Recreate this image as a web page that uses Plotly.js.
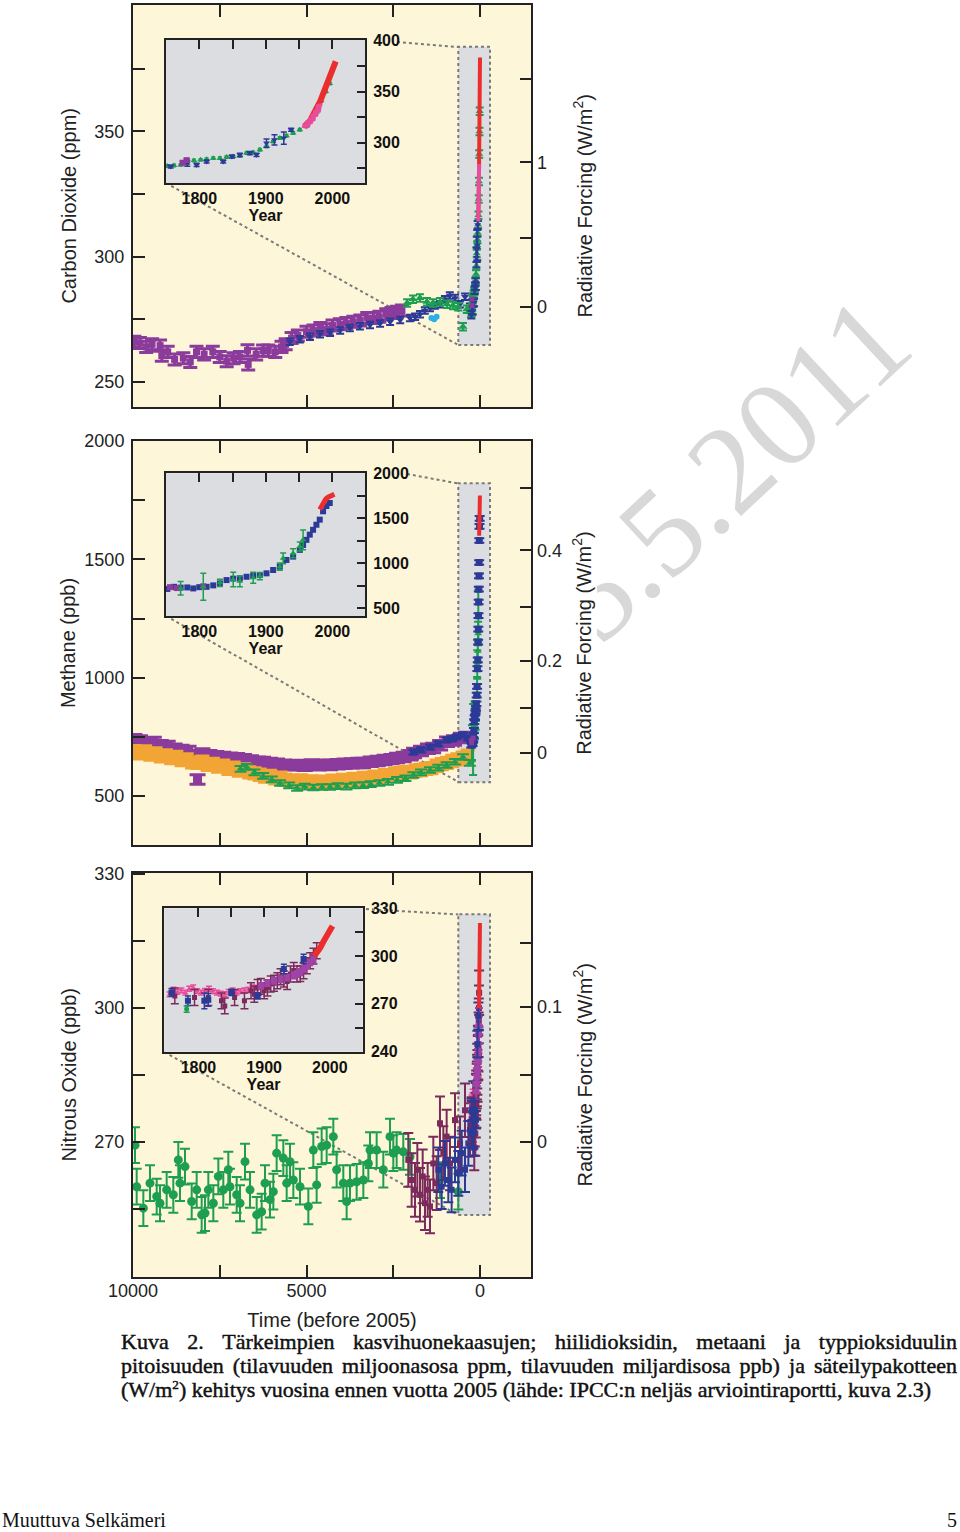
<!DOCTYPE html>
<html><head><meta charset="utf-8">
<script src="https://cdn.plot.ly/plotly-3.0.1.min.js"></script>
<style>
html,body{margin:0;padding:0;background:#fff;width:960px;height:1532px;overflow:hidden;}
#wm{position:absolute;left:0;top:0;z-index:0;}
#chart{position:absolute;left:0;top:0;width:960px;height:1532px;z-index:1;}
.cap{position:absolute;left:121px;width:836px;font-family:'Liberation Serif','Times New Roman',serif;font-size:22px;line-height:24px;color:#111;z-index:2;white-space:nowrap;-webkit-text-stroke:0.45px #111;}
.flex{display:flex;justify-content:space-between;}
.cap sup{font-size:0.6em;line-height:0;vertical-align:0.6em;}
.foot{position:absolute;top:1508px;font-family:'Liberation Serif','Times New Roman',serif;font-size:20px;line-height:24px;color:#111;z-index:2;}
</style></head><body>
<svg id="wm" width="960" height="1532"><text x="918" y="351" transform="rotate(-43 918 351)" text-anchor="end" font-family="Liberation Serif, serif" font-size="126" fill="#d8d8d8">15.5.2011</text></svg>
<div id="chart"></div>
<div class="cap flex" style="top:1330px" data-words="Kuva 2. Tärkeimpien kasvihuonekaasujen; hiilidioksidin, metaani ja typpioksiduulin"></div>
<div class="cap flex" style="top:1354px" data-words="pitoisuuden (tilavuuden miljoonasosa ppm, tilavuuden miljardisosa ppb) ja säteilypakotteen"></div>
<div class="cap" style="top:1378px">(W/m<sup>2</sup>) kehitys vuosina ennen vuotta 2005 (lähde: IPCC:n neljäs arviointiraportti, kuva 2.3)</div>
<div class="foot" style="left:2px">Muuttuva Selkämeri</div>
<div class="foot" style="right:3px">5</div>
<script>
// justified caption lines: one span per word
document.querySelectorAll('.cap.flex').forEach(function (el) {
  el.getAttribute('data-words').split(' ').forEach(function (w) {
    var s = document.createElement('span'); s.textContent = w; el.appendChild(s);
  });
});

// ================= DATA =================
// --- CO2 main panel (years before 2005, ppm)
const co2PurpleYr  = [9960,9800,9620,9450,9220,9170,9000,8800,8550,8350,8170,7950,7700,7500,7300,7100,6920,6700,6680,6450,6250,6100,5900,5720,5600,5430,5250,5000,4800,4600,4420,4250,4040,3850,3650,3450,3250,3070,2900,2700,2550,2400,2250];
const co2PurplePpm = [266,265.5,264,265,264.5,260.5,262,259,259.5,258,262,261,262,260,258.3,259.5,260,262.6,257,261,262.5,262.5,262,264,265,267.5,268.5,270,270.5,271.5,271,272.5,273,273.5,274,274.5,275.5,275.5,276,277,277.5,278,278.5];
const co2BlueYr  = [5480,5190,4900,4610,4320,4030,3750,3460,3170,2880,2590,2300,2020,1870,1730,1590,1440,1300,1150,1010,870,720,580,430,290];
const co2BluePpm = [266,267,268,269,269.6,270.5,271.5,272.2,272.7,273.3,274,274.7,275.5,276,277,278.5,279.5,280.5,281,283,284.5,283.5,281,284,280];
const co2GreenYr  = [2100,1930,1730,1530,1350,1150,950,780,630,490,380];
const co2GreenPpm = [281.5,283,283.5,282,281.5,282,281,280.5,280,272,279];
const co2CyanYr  = [1400,1320,1250];
const co2CyanPpm = [275.5,275,276];
// --- CO2 inset (calendar year, ppm)
const co2iGreenYr  = [1752,1762,1772,1782,1792,1802,1811,1821,1831,1841,1851,1861,1871,1881,1891,1901,1911,1921,1931,1941,1951,1961,1969,1976,1983,1990,1996];
const co2iGreenPpm = [277.4,277.8,278.4,280,282.7,283.3,284,285,285,286,286.6,287.3,289.9,290.5,293.1,296.4,301.3,304.6,306.9,309.5,312.7,316.5,323,330,341,350,358];
const co2iBlueYr  = [1757,1782,1796,1811,1836,1849,1861,1876,1886,1901,1913,1927,1938];
const co2iBluePpm = [276.8,280,278.4,281.7,281.7,286.6,288.2,289.9,288.2,299.7,302.9,304.6,312.7];
const co2iBlueErr = [1.5,3,1.5,1.5,1.5,1.5,1.5,1.5,1.5,4,5,6,1.5];
const co2iPurpleYr  = [1775,1781];
const co2iPurplePpm = [280.5,283];
const co2iRedYr  = [1958,1961,1964,1967,1970,1973,1976,1979,1982,1985,1988,1991,1994,1997,2000,2003,2005];
const co2iRedPpm = [316,317.5,320,322,326,329.5,332,337,341,346,351,355,359,364,369.5,375.5,379.5];
const co2iPinkYr  = [1958,1960,1962,1964,1966,1968,1970,1972,1974,1976,1978,1980,1982];
const co2iPinkPpm = [314,318,316,321,319,324,322,328,326,332,330,337,335];

// --- CH4 main panel (years before 2005, ppb)
const ch4PurpleYr  = [9960,9800,9600,9400,9200,9000,8800,8600,8400,8160,8140,8000,7800,7600,7400,7200,7000,6800,6600,6400,6250,6050,5850,5650,5450,5270,5050,4850,4650,4450,4320,4100,3900,3700,3500,3370,3150,2950,2750,2550,2390,2200,2000,1900,1700,1500,1350,1150,950,750,550,400];
const ch4PurplePpb = [740,735,725,728,715,712,700,695,690,673,570,680,672,668,665,662,660,655,650,645,644,640,636,632,630,631,628,633,630,632,631,634,636,638,640,640,645,648,652,656,661,665,672,682,690,700,703,715,729,735,745,750];
const ch4OrangeYr  = [9960,9800,9650,9500,9350,9200,9050,8900,8750,8600,8450,8300,8150,8000,7850,7700,7550,7400,7250,7100,6950,6800,6650,6500,6350,6200,6050,5900,5750,5600,5450,5300,5150,5000,4850,4700,4550,4400,4250,4100,3950,3800,3650,3500,3350,3200,3050,2900,2750,2600,2450,2300,2150,2000,1850,1700,1550,1400,1250,1100,950,800,650,500,350];
const ch4OrangePpb = [690,680,688,675,680,668,672,660,665,652,655,642,640,645,632,636,625,628,615,620,608,612,600,596,590,582,585,575,578,568,565,560,566,556,562,555,561,558,565,560,568,563,572,570,576,574,582,580,588,586,594,597,602,600,608,610,615,618,628,635,640,648,655,662,670];
const ch4GreenYr  = [6900,6720,6500,6250,6000,5760,5500,5270,5050,4800,4550,4320,4100,3850,3600,3370,3150,2900,2650,2390,2150,1920,1700,1440,1200,960,720,490,290];
const ch4GreenPpb = [615,623,600,585,570,555,545,534,540,536,538,538,542,540,545,546,550,555,560,568,575,589,600,610,620,631,645,665,640];
const ch4BlueYr  = [1920,1700,1440,1200,960,800,670,490,350];
const ch4BluePpb = [686,695,707,720,737,742,750,758,745];
// --- CH4 inset (calendar year, ppb)
const ch4iBlueYr  = [1752,1762,1772,1782,1791,1800,1811,1821,1831,1841,1851,1861,1871,1881,1891,1901,1911,1921,1931,1941,1951,1956,1961,1966,1971,1976,1981,1986,1991,1996];
const ch4iBluePpb = [715,739,730,732,721,735,739,755,777,814,830,833,851,860,870,889,926,963,1038,1075,1150,1205,1262,1320,1374,1430,1487,1580,1640,1673];
const ch4iGreenYr  = [1772,1806,1831,1851,1861,1881,1891,1921,1926,1941,1951,1956];
const ch4iGreenPpb = [724,739,783,820,800,840,858,963,1056,1113,1187,1262];
const ch4iGreenErr = [75,150,40,80,60,60,40,40,60,50,50,110];
const ch4iPurpleYr  = [1756,1766,1806];
const ch4iPurplePpb = [735,725,745];
const ch4iRedYr  = [1981,1984,1987,1990,1993,1996,1999,2003];
const ch4iRedPpb = [1600,1645,1685,1715,1735,1750,1760,1770];

// --- N2O main panel (years before 2005, ppb)
const n2oGreenYr  = [9942,9894,9702,9510,9317,9222,9030,8838,8694,8646,8501,8309,8165,8021,7925,7829,7685,7541,7397,7253,7205,7012,6916,6772,6628,6436,6292,6196,6052,5956,5860,5668,5571,5475,5379,5187,4947,4803,4707,4563,4419,4227,4131,3939,3843,3746,3554,3362,3218,3170,2978,2786,2594,2498,2402,2210,2017,1153,625];
const n2oGreenPpb = [269.3,260.0,255.2,260.8,257.8,256.3,259.3,258.2,266.0,260.8,264.5,256.7,259.3,253.7,254.1,259.3,256.3,262.3,259.3,263.8,260.0,258.2,256.3,265.6,259.3,253.7,254.4,260.8,257.1,258.9,267.5,266.4,260.8,265.6,261.5,260.0,255.6,268.2,260.4,269.0,269.3,271.2,263.8,260.8,256.7,260.8,261.1,261.5,265.2,268.2,268.2,263.8,271.2,267.5,268.2,267.8,266.7,261.5,258.9];
const n2oMaroonYr  = [2066,1970,1873,1806,1729,1652,1585,1508,1441,1345,1249,1153,1057,961,865,720,576,432,288];
const n2oMaroonPpb = [266.0,261.5,259.3,263.8,258.2,262.3,256.3,259.3,255.6,265.2,260.8,274.2,267.5,271.2,265.2,274.9,269.7,277.1,272.7];
const n2oBlueYr  = [1201,1105,1009,913,817,720,625,528,432,336,240,192];
const n2oBluePpb = [263.8,260.0,265.2,261.5,259.3,266.0,263.0,267.5,263.8,269.7,274.2,278.6];
// --- N2O inset (calendar year, ppb)
const n2oiPinkYr  = [1756,1762,1768,1774,1780,1786,1792,1798,1804,1810,1816,1822,1828,1834,1840,1846,1852,1858,1864,1870,1876,1882,1888,1894];
const n2oiPinkPpb = [276,279,277.5,278.5,277,279.5,280.3,278,277,278.2,279.5,278,277,276.5,276.1,277.5,278.5,277,278,278.5,279,280.3,280,281.3];
const n2oiMaroonYr  = [1764,1794,1815,1835,1840,1855,1870,1880,1885,1890,1895,1900,1905,1910,1915,1920,1925,1930,1935,1940,1945,1950,1955,1960,1965,1970,1975,1980];
const n2oiMaroonPpb = [275,274,274,271.9,268.7,274,271.9,278.2,276,280.3,281,278.2,280,282.5,283,284.5,287,285.6,284,288.8,291,288.8,289,290.8,294,297.1,300,303.4];
const n2oiVioletYr  = [1895,1905,1915,1925,1935,1945,1950,1955,1960,1965,1970,1975];
const n2oiVioletPpb = [281.3,283,284.5,285.5,286.5,288,288.8,290,291.9,294,296.1,298];
const n2oiBlueYr  = [1759,1784,1809,1815,1850,1890,1930,1960];
const n2oiBluePpb = [277.2,271.9,271.9,272.5,277.2,275,291.9,298.2];
const n2oiBlueErr = [2.5,3,5,4,2,2,3,3];
const n2oiGreenYr  = [1782];
const n2oiGreenPpb = [266.7];
const n2oiRedYr  = [1976,1980,1985,1990,1995,2000,2004];
const n2oiRedPpb = [300,302,305,309,312,316,319];

// --- Axis ticks / labels (labelled ticks, plus unlabelled minor ticks)
const mainXMinorOnly = [7500,5000,2500,0];
const mainXTicksB  = [10000,5000,0];
const mainXLabelsB = ['10000','5000','0'];
const mainXMinorB  = [7500,2500];
const co2Ticks  = [250,300,350];
const co2Labels = ['250','300','350'];
const co2Minor  = [275,325,375];
const co2RfAt   = [280,337.7];            // ppm positions of 0 and 1 W/m2
const co2RfLabels = ['0','1'];
const co2RfMinor  = [307.4,370.8];        // 0.5 and 1.5 W/m2
const ch4Ticks  = [500,1000,1500,2000];
const ch4Labels = ['500','1000','1500','2000'];
const ch4Minor  = [750,1250,1750];
const ch4RfAt   = [682,1070,1539];        // 0, 0.2, 0.4 W/m2
const ch4RfLabels = ['0','0.2','0.4'];
const ch4RfMinor  = [872,1298,1801];      // 0.1, 0.3, 0.5 W/m2
const n2oTicks  = [270,300,330];
const n2oLabels = ['270','300','330'];
const n2oMinor  = [255,285,315];
const n2oRfAt   = [270,300.3];            // 0 and 0.1 W/m2
const n2oRfLabels = ['0','0.1'];
const n2oRfMinor  = [285,314.6];          // 0.05 and 0.15 W/m2
const insetXTicks  = [1800,1900,2000];
const insetXLabels = ['1800','1900','2000'];
const insetXTop    = [1800,1850,1900,1950,2000];
const co2iTicks  = [300,350,400];
const co2iLabels = ['300','350','400'];
const co2iMinor  = [275,325,375];
const ch4iTicks  = [500,1000,1500,2000];
const ch4iLabels = ['500','1000','1500','2000'];
const ch4iMinor  = [750,1250,1750];
const n2oiTicks  = [240,270,300,330];
const n2oiLabels = ['240','270','300','330'];
const n2oiMinor  = [255,285,315];

// ================= COLORS =================
const C = {purple:'#8B3B9B', blue:'#2B3A96', green:'#1E9E50', orange:'#F2A535', red:'#EC2D2D',
           pink:'#EA4C9C', maroon:'#7B2A5C', violet:'#A143A6', cyan:'#2AB0E6'};

// ================= HELPERS =================
const toBP = a => a.map(v => 2005 - v);
function pts(x, y, xa, ya, color, symbol, size, err, capW, thick) {
  const t = {type:'scatter', mode:'markers', x:x, y:y, xaxis:xa, yaxis:ya, showlegend:false, hoverinfo:'skip',
             marker:{color:color, symbol:symbol, size:size, line:{width:0}}};
  if (err !== undefined && err !== null) {
    t.error_y = Array.isArray(err)
      ? {type:'data', array:err, symmetric:true, color:color, thickness:thick||1.5, width:capW||3}
      : {type:'constant', value:err, color:color, thickness:thick||1.5, width:capW||3};
  }
  return t;
}
function ln(x, y, xa, ya, color, width) {
  return {type:'scatter', mode:'lines', x:x, y:y, xaxis:xa, yaxis:ya, showlegend:false, hoverinfo:'skip',
          line:{color:color, width:width}};
}
const dummy = (xa, ya) => ({type:'scatter', mode:'markers', x:[], y:[], xaxis:xa, yaxis:ya, showlegend:false, hoverinfo:'skip'});

// ================= TRACES =================
const traces = [
  // CO2 main
  pts(co2PurpleYr, co2PurplePpm, 'x','y', C.purple, 'square', 7, 2.2, 7, 3),
  pts(co2BlueYr, co2BluePpm, 'x','y', C.blue, 'triangle-down', 7, 1.3, 4, 2),
  pts(co2GreenYr, co2GreenPpm, 'x','y', C.green, 'triangle-up', 8, 1.5, 4, 2),
  pts(co2CyanYr, co2CyanPpm, 'x','y', C.cyan, 'circle', 6),
  pts(toBP(co2iGreenYr), co2iGreenPpm, 'x','y', C.green, 'triangle-up', 7, 1.5, 4, 2),
  pts(toBP(co2iBlueYr), co2iBluePpm, 'x','y', C.blue, 'triangle-down', 6, co2iBlueErr, 4, 2),
  pts(toBP(co2iPurpleYr), co2iPurplePpm, 'x','y', C.purple, 'square', 5),
  ln(toBP(co2iRedYr), co2iRedPpm, 'x','y', C.red, 4),
  ln(toBP(co2iPinkYr), co2iPinkPpm, 'x','y', C.pink, 4),
  dummy('x','y7'),
  // CO2 inset
  pts(co2iGreenYr, co2iGreenPpm, 'x4','y4', C.green, 'triangle-up', 6, 1.2, 2, 1.5),
  pts(co2iBlueYr, co2iBluePpm, 'x4','y4', C.blue, 'triangle-down', 6, co2iBlueErr, 3, 1.5),
  pts(co2iPurpleYr, co2iPurplePpm, 'x4','y4', C.purple, 'square', 6, 1.5, 3, 1.5),
  ln(co2iRedYr, co2iRedPpm, 'x4','y4', C.red, 6),
  ln(co2iPinkYr, co2iPinkPpm, 'x4','y4', C.pink, 6),
  dummy('x7','y4'),

  // CH4 main
  pts(ch4PurpleYr, ch4PurplePpb, 'x2','y2', C.purple, 'square', 9, 20, 8, 3),
  pts(ch4OrangeYr, ch4OrangePpb, 'x2','y2', C.orange, 'square', 10, 24, 7, 3),
  pts(ch4GreenYr, ch4GreenPpb, 'x2','y2', C.green, 'triangle-up', 7, 12, 6, 2),
  pts(ch4BlueYr, ch4BluePpb, 'x2','y2', C.blue, 'square', 7, 10, 5, 2),
  pts(toBP(ch4iGreenYr), ch4iGreenPpb, 'x2','y2', C.green, 'triangle-up', 7, ch4iGreenErr, 4, 2),
  pts(toBP(ch4iBlueYr), ch4iBluePpb, 'x2','y2', C.blue, 'square', 7, 10, 5, 2),
  pts(toBP(ch4iPurpleYr), ch4iPurplePpb, 'x2','y2', C.purple, 'square', 5),
  ln(toBP(ch4iRedYr), ch4iRedPpb, 'x2','y2', C.red, 4),
  dummy('x2','y8'),
  // CH4 inset
  pts(ch4iBlueYr, ch4iBluePpb, 'x5','y5', C.blue, 'square', 6),
  pts(ch4iPurpleYr, ch4iPurplePpb, 'x5','y5', C.purple, 'square', 6),
  pts(ch4iGreenYr, ch4iGreenPpb, 'x5','y5', C.green, 'triangle-up', 6, ch4iGreenErr, 3, 1.5),
  ln(ch4iRedYr, ch4iRedPpb, 'x5','y5', C.red, 5),
  dummy('x8','y5'),

  // N2O main
  pts(n2oGreenYr, n2oGreenPpb, 'x3','y3', C.green, 'circle', 9, 4, 5, 2),
  pts(n2oMaroonYr, n2oMaroonPpb, 'x3','y3', C.maroon, 'square', 6, 6, 5, 2),
  pts(n2oBlueYr, n2oBluePpb, 'x3','y3', C.blue, 'square', 6, 5, 5, 2),
  pts(toBP(n2oiPinkYr), n2oiPinkPpb, 'x3','y3', C.pink, 'triangle-up', 5, 1.5, 3, 1.5),
  pts(toBP(n2oiMaroonYr), n2oiMaroonPpb, 'x3','y3', C.maroon, 'square', 6, 5, 5, 2),
  pts(toBP(n2oiVioletYr), n2oiVioletPpb, 'x3','y3', C.violet, 'square', 6, 2, 4, 2),
  pts(toBP(n2oiBlueYr), n2oiBluePpb, 'x3','y3', C.blue, 'square', 6, n2oiBlueErr, 5, 2),
  ln(toBP(n2oiRedYr), n2oiRedPpb, 'x3','y3', C.red, 4),
  dummy('x3','y9'),
  // N2O inset
  pts(n2oiPinkYr, n2oiPinkPpb, 'x6','y6', C.pink, 'triangle-up', 5, 1.5, 3, 1.5),
  pts(n2oiMaroonYr, n2oiMaroonPpb, 'x6','y6', C.maroon, 'square', 5, 5, 4, 1.5),
  pts(n2oiVioletYr, n2oiVioletPpb, 'x6','y6', C.violet, 'square', 6, 2, 3, 1.5),
  pts(n2oiBlueYr, n2oiBluePpb, 'x6','y6', C.blue, 'square', 6, n2oiBlueErr, 3, 1.5),
  pts(n2oiGreenYr, n2oiGreenPpb, 'x6','y6', C.green, 'circle', 5, 2, 3, 1.5),
  ln(n2oiRedYr, n2oiRedPpb, 'x6','y6', C.red, 6),
  dummy('x9','y6')
];

// ================= LAYOUT =================
const W = 960, H = 1532;
const FONT = 'Liberation Sans, Arial, Helvetica, sans-serif';
const INK = '#222';
const BOX = {
  p1:{l:133,r:531,t:4.6,b:407}, p2:{l:133,r:531,t:441,b:845}, p3:{l:133,r:531,t:872.5,b:1277},
  i1:{l:166,r:365,t:40,b:183}, i2:{l:166,r:365,t:473.3,b:616}, i3:{l:164.3,r:362.7,t:908.3,b:1051.7}
};
const dX = b => [b.l / W, b.r / W];
const dY = b => [1 - b.b / H, 1 - b.t / H];
const fx = (b, x) => (x - b.l) / (b.r - b.l);
const fy = (b, y) => (b.b - y) / (b.b - b.t);

const MAIN_X_RANGE = [10000, -1470];
const CO2_RANGE = [240, 400.6], CH4_RANGE = [293, 2000.5], N2O_RANGE = [239.8, 330.3];
const CO2I_RANGE = [260.7, 400.4], CH4I_RANGE = [414, 2003], N2OI_RANGE = [239.9, 330.1];
const I1_X = [1750, 2049], I2_X = [1750, 2049], I3_X = [1748, 2050];

const tickFont = {family:FONT, size:18, color:INK};
const boldFont = {family:FONT, size:16, color:'#111', weight:'bold'};
const titleFont = {family:FONT, size:20, color:INK};
const minorTicks = (vals, len) => ({tickmode:'array', tickvals:vals, ticks:'inside', ticklen:len, tickwidth:2, tickcolor:INK, showgrid:false});

function mainX(box, anchor, bottomLabels, title) {
  const a = {domain:dX(box), range:MAIN_X_RANGE, anchor:anchor, fixedrange:true,
    ticks:'inside', ticklen:12, tickwidth:2, tickcolor:INK, tickfont:tickFont,
    showline:true, linewidth:2, linecolor:INK, mirror:'ticks', showgrid:false, zeroline:false};
  if (bottomLabels) {
    a.tickmode = 'array'; a.tickvals = mainXTicksB; a.ticktext = mainXLabelsB;
    a.ticklabelstandoff = -4; a.minor = minorTicks(mainXMinorB, 12);
    a.title = {text:title, font:titleFont, standoff:13};
  } else {
    a.tickmode = 'array'; a.tickvals = mainXMinorOnly; a.showticklabels = false;
  }
  return a;
}
function mainY(box, anchor, range, tv, tt, minor, title, standoff) {
  return {domain:dY(box), range:range, anchor:anchor, fixedrange:true,
    tickmode:'array', tickvals:tv, ticktext:tt, tickfont:tickFont, ticklabelstandoff:3,
    ticks:'inside', ticklen:12, tickwidth:2, tickcolor:INK, minor:minorTicks(minor, 12),
    showline:true, linewidth:2, linecolor:INK, mirror:true, showgrid:false, zeroline:false,
    title:{text:title, font:titleFont, standoff:standoff}};
}
function rfY(over, anchor, range, tv, tt, minor, standoff) {
  return {overlaying:over, side:'right', anchor:anchor, range:range, fixedrange:true,
    tickmode:'array', tickvals:tv, ticktext:tt, tickfont:tickFont, ticklabelstandoff:5,
    ticks:'inside', ticklen:11, tickwidth:2, tickcolor:INK, minor:minorTicks(minor, 11),
    showline:false, showgrid:false, zeroline:false,
    title:{text:'Radiative Forcing (W/m<sup>2</sup>)', font:titleFont, standoff:standoff}};
}
function insetX(box, anchor, range) {
  return {domain:dX(box), range:range, anchor:anchor, fixedrange:true,
    tickmode:'array', tickvals:insetXTicks, ticktext:insetXLabels, tickfont:boldFont,
    ticks:'', showline:true, linewidth:2, linecolor:INK, mirror:true, showgrid:false, zeroline:false,
    title:{text:'Year', font:boldFont, standoff:2}};
}
function insetTop(over, anchor, range) {
  return {overlaying:over, side:'top', anchor:anchor, range:range, fixedrange:true,
    tickmode:'array', tickvals:insetXTop, showticklabels:false,
    ticks:'inside', ticklen:9, tickwidth:2, tickcolor:INK, showline:false, showgrid:false, zeroline:false};
}
function insetY(box, anchor, range, tv, tt, minor) {
  return {domain:dY(box), range:range, anchor:anchor, side:'right', fixedrange:true,
    tickmode:'array', tickvals:tv, ticktext:tt, tickfont:boldFont, ticklabelstandoff:3,
    ticks:'inside', ticklen:8, tickwidth:2, tickcolor:INK, minor:minorTicks(minor, 8),
    showline:true, linewidth:2, linecolor:INK, mirror:true, showgrid:false, zeroline:false};
}

// decorative shapes
const CREAM = '#FEF6D8', GREYBG = '#DCDDE1', DOT = '#7a7a7a';
function panelShapes(xa, ya, box, zoomRect, conn) {
  const xr = xa + ' domain', yr = ya + ' domain';
  return [
    {type:'rect', layer:'below', xref:xr, yref:yr, x0:0, x1:1, y0:0, y1:1, fillcolor:CREAM, line:{width:0}},
    {type:'rect', layer:'below', xref:xr, yref:yr,
      x0:fx(box, zoomRect.l), x1:fx(box, zoomRect.r), y0:fy(box, zoomRect.b), y1:fy(box, zoomRect.t),
      fillcolor:GREYBG, line:{color:DOT, width:2, dash:'dot'}},
    ...conn.map(c => ({type:'line', layer:'below', xref:xr, yref:yr,
      x0:fx(box, c[0]), y0:fy(box, c[1]), x1:fx(box, c[2]), y1:fy(box, c[3]),
      line:{color:DOT, width:2, dash:'dot'}}))
  ];
}
const insetBg = (xa, ya) => ({type:'rect', layer:'below', xref:xa + ' domain', yref:ya + ' domain',
  x0:0, x1:1, y0:0, y1:1, fillcolor:GREYBG, line:{width:0}});

const shapes = [
  {type:'rect', layer:'below', xref:'paper', yref:'paper', x0:60 / W, x1:597 / W, y0:1 - 1330 / H, y1:1,
   fillcolor:'#ffffff', line:{width:0}},
  ...panelShapes('x', 'y', BOX.p1, {l:458.3, r:490, t:46.7, b:345}, [[397,42,458.3,47],[166,183,458.3,345]]),
  ...panelShapes('x2', 'y2', BOX.p2, {l:458.3, r:490, t:483.3, b:782.3}, [[407,474,458.3,483.5],[166,616,458.3,782]]),
  ...panelShapes('x3', 'y3', BOX.p3, {l:458.3, r:490, t:914.3, b:1215}, [[366,909,458.3,914.5],[164.3,1052,458.3,1215]]),
  insetBg('x4', 'y4'), insetBg('x5', 'y5'), insetBg('x6', 'y6')
];

const layout = {
  width:W, height:H, margin:{l:0, r:0, t:0, b:0, pad:0},
  paper_bgcolor:'rgba(0,0,0,0)', plot_bgcolor:'rgba(0,0,0,0)',
  font:{family:FONT, color:INK}, showlegend:false, hovermode:false,
  xaxis:  mainX(BOX.p1, 'y', false),
  yaxis:  mainY(BOX.p1, 'x', CO2_RANGE, co2Ticks, co2Labels, co2Minor, 'Carbon Dioxide (ppm)', 12),
  yaxis7: rfY('y', 'x', CO2_RANGE, co2RfAt, co2RfLabels, co2RfMinor, 31),
  xaxis2: mainX(BOX.p2, 'y2', false),
  yaxis2: mainY(BOX.p2, 'x2', CH4_RANGE, ch4Ticks, ch4Labels, ch4Minor, 'Methane (ppb)', 3),
  yaxis8: rfY('y2', 'x2', CH4_RANGE, ch4RfAt, ch4RfLabels, ch4RfMinor, 15),
  xaxis3: mainX(BOX.p3, 'y3', true, 'Time (before 2005)'),
  yaxis3: mainY(BOX.p3, 'x3', N2O_RANGE, n2oTicks, n2oLabels, n2oMinor, 'Nitrous Oxide (ppb)', 12),
  yaxis9: rfY('y3', 'x3', N2O_RANGE, n2oRfAt, n2oRfLabels, n2oRfMinor, 16),
  xaxis4: insetX(BOX.i1, 'y4', I1_X),
  yaxis4: insetY(BOX.i1, 'x4', CO2I_RANGE, co2iTicks, co2iLabels, co2iMinor),
  xaxis7: insetTop('x4', 'y4', I1_X),
  xaxis5: insetX(BOX.i2, 'y5', I2_X),
  yaxis5: insetY(BOX.i2, 'x5', CH4I_RANGE, ch4iTicks, ch4iLabels, ch4iMinor),
  xaxis8: insetTop('x5', 'y5', I2_X),
  xaxis6: insetX(BOX.i3, 'y6', I3_X),
  yaxis6: insetY(BOX.i3, 'x6', N2OI_RANGE, n2oiTicks, n2oiLabels, n2oiMinor),
  xaxis9: insetTop('x6', 'y6', I3_X),
  shapes: shapes
};

Plotly.newPlot('chart', traces, layout, {staticPlot:true, displayModeBar:false});
</script>
</body></html>
